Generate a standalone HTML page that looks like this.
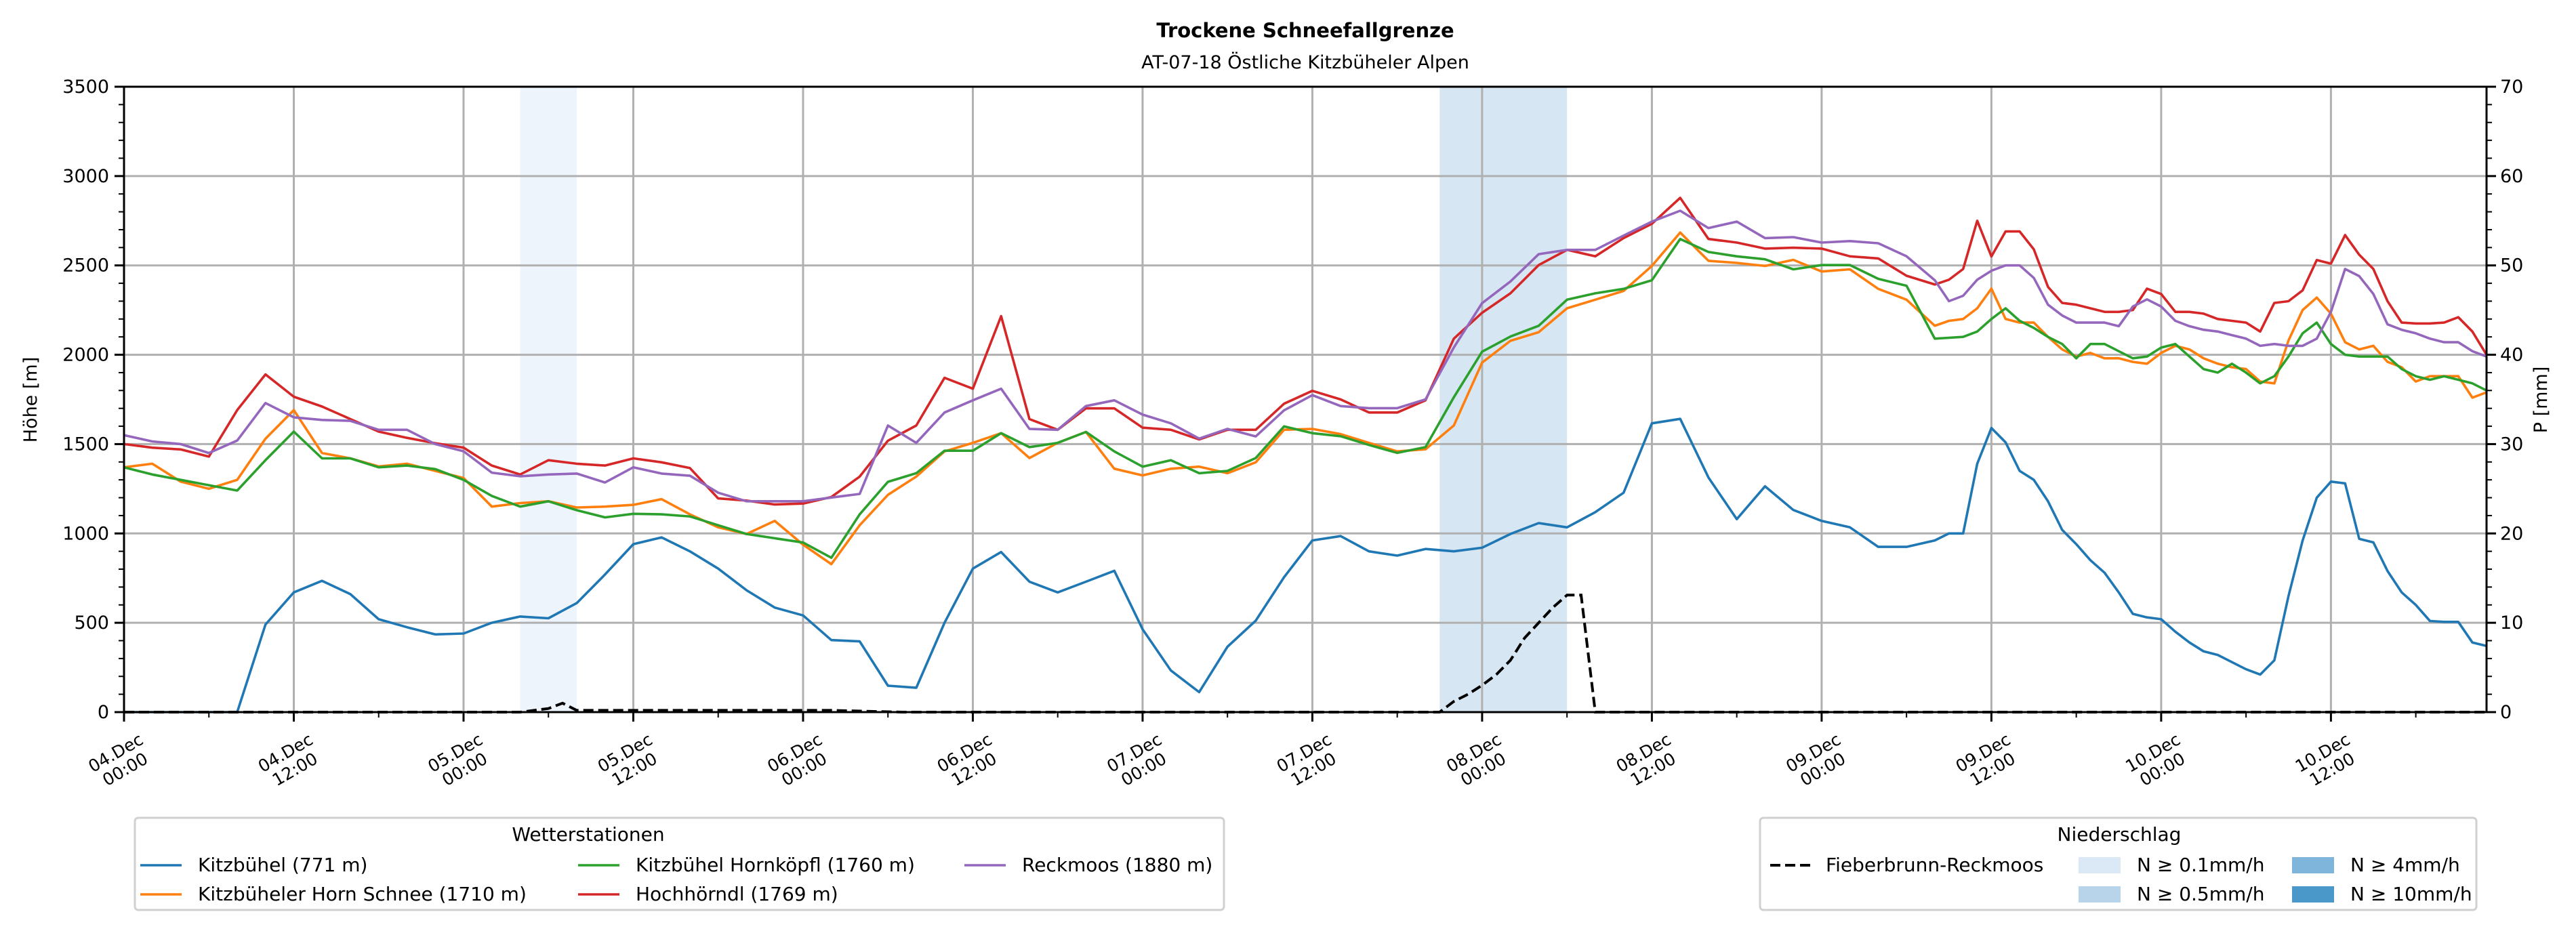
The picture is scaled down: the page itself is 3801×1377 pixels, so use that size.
<!DOCTYPE html>
<html><head><meta charset="utf-8"><title>Trockene Schneefallgrenze</title>
<style>
html,body{margin:0;padding:0;background:#fff;}
svg{display:block;font-family:"DejaVu Sans","Liberation Sans",sans-serif;}
</style></head>
<body>
<svg id="chart" width="3801" height="1377" viewBox="0 0 3801 1377" xmlns="http://www.w3.org/2000/svg">
<rect width="3801" height="1377" fill="#fff"/>
<text x="1926" y="55" text-anchor="middle" font-size="29" font-weight="bold">Trockene Schneefallgrenze</text>
<text x="1926" y="101" text-anchor="middle" font-size="27">AT-07-18 Östliche Kitzbüheler Alpen</text>
<g id="spans"></g><g id="grid"></g><g id="series"></g><g id="axes"></g>
<text transform="translate(54,590) rotate(-90)" text-anchor="middle" font-size="27">Höhe [m]</text>
<text transform="translate(3758,590) rotate(-90)" text-anchor="middle" font-size="27">P [mm]</text>
<g id="legend-left">
<rect x="199" y="1207" width="1607" height="136" fill="#fff" stroke="#d0d0d0" stroke-width="3" rx="5"/>
<text x="868" y="1241" text-anchor="middle" font-size="28">Wetterstationen</text>
</g>
<g id="legend-right">
<rect x="2597" y="1207" width="1057" height="136" fill="#fff" stroke="#d0d0d0" stroke-width="3" rx="5"/>
<text x="3127" y="1241" text-anchor="middle" font-size="28">Niederschlag</text>
</g>
</svg>
<script>
// ---------- data ----------
const hours = [0,2,4,6,8,10,12,14,16,18,20,22,24,26,28,30,32,34,36,38,40,42,44,46,48,50,52,54,56,58,60,62,64,66,68,70,72,74,76,78,80,82,84,86,88,90,92,94,96,98,100,102,104,106,108,110,112,114,116,118,120,122,124,126,128,129,130,131,132,133,134,135,136,137,138,139,140,141,142,143,144,145,146,147,148,149,150,151,152,153,154,155,156,157,158,159,160,161,162,163,164,165,166,167];
const kitzbuehel = [0,0,0,0,0,490,670,735,660,520,475,435,440,500,535,525,610,770,940,
978,900,803,682,585,541,403,396,148,136,500,803,896,730,670,730,791,464,233,112,366,512,755,961,
985,900,876,913,900,920,997,1058,1034,1119,1228,1616,1641,1313,1080,1264,1131,1070,1034,925,925,961,
1000,1000,1390,1590,1510,1350,1300,1180,1020,940,850,780,670,550,530,520,450,390,340,320,280,240,210,290,650,960,1200,1290,1280,970,950,790,670,600,510,505,505,390,370];
const hornSchnee = [1370,1390,1290,1250,1300,1530,1690,1450,1420,1375,1390,1350,1310,1150,1170,1180,1145,1150,1160,
1192,1107,1034,997,1070,937,828,1046,1216,1318,1459,1507,1561,1422,1507,1568,1362,1325,1362,1374,1337,1398,1580,1585,
1556,1507,1459,1471,1604,1956,2078,2126,2260,2308,2357,2497,2684,2526,2514,2497,2531,2466,2478,2369,2308,2162,
2190,2200,2260,2370,2200,2180,2180,2100,2030,1990,2010,1980,1980,1960,1950,2010,2050,2030,1980,1950,1930,1920,1850,1840,2080,2250,2320,2230,2070,2030,2050,1960,1930,1850,1880,1880,1880,1760,1790];
const hornkoepfl = [1370,1330,1300,1270,1240,1410,1570,1420,1420,1370,1380,1360,1300,1210,1150,1180,1130,1090,1110,
1107,1095,1046,997,973,949,864,1107,1289,1337,1463,1463,1561,1483,1507,1568,1459,1374,1410,1337,1350,1422,1599,1561,
1544,1495,1451,1483,1762,2017,2102,2162,2308,2344,2369,2417,2648,2575,2551,2534,2478,2502,2502,2425,2386,2090,
2095,2100,2130,2200,2260,2190,2150,2100,2060,1980,2060,2060,2020,1980,1990,2040,2060,1990,1920,1900,1950,1900,1840,1880,1990,2120,2180,2060,2000,1990,1990,1990,1920,1880,1860,1880,1860,1840,1800];
const hochhoerndl = [1500,1480,1470,1430,1690,1890,1765,1710,1640,1570,1535,1505,1480,1380,1330,1410,1390,1380,1420,
1398,1366,1196,1184,1162,1167,1204,1318,1519,1604,1871,1810,2216,1640,1580,1700,1700,1592,1580,1526,1580,1580,1726,1798,
1750,1677,1677,1745,2090,2235,2344,2502,2587,2551,2653,2733,2878,2648,2628,2594,2599,2594,2551,2539,2442,2393,
2420,2480,2750,2550,2690,2690,2590,2380,2290,2280,2260,2240,2240,2250,2370,2340,2240,2240,2230,2200,2190,2180,2130,2290,2300,2360,2530,2510,2670,2560,2480,2300,2180,2175,2175,2180,2210,2130,2000];
const reckmoos = [1550,1515,1500,1450,1520,1730,1650,1635,1630,1580,1580,1500,1460,1340,1320,1330,1335,1285,1370,
1335,1323,1228,1180,1180,1180,1201,1221,1604,1507,1677,1745,1810,1585,1580,1713,1745,1665,1616,1531,1585,1543,1689,1774,
1713,1701,1701,1750,2041,2289,2410,2563,2587,2587,2667,2745,2806,2709,2745,2653,2658,2628,2636,2624,2551,2417,
2300,2330,2420,2470,2500,2500,2430,2280,2220,2180,2180,2180,2160,2270,2310,2270,2190,2160,2140,2130,2110,2090,2050,2060,2050,2050,2090,2240,2480,2440,2340,2170,2140,2120,2090,2070,2070,2020,1990];
const precipHours = [0,28,30,31,32,40,50,55,93,94,95,96,97,98,99,100,101,102,103,104,167];
const precipVals  = [0,0,0.4,1.0,0.2,0.2,0.2,0,0,1.2,2.0,3.0,4.2,5.8,8.3,10.0,11.7,13.1,13.1,0,0];
const spanStarts = [28,93];
const spanEnds   = [32,102];
const spanColors = ["#eef4fb","#d6e6f3"];
const xTickHours = [0,12,24,36,48,60,72,84,96,108,120,132,144,156];
const xTickLabels = ["04.Dec|00:00","04.Dec|12:00","05.Dec|00:00","05.Dec|12:00","06.Dec|00:00","06.Dec|12:00","07.Dec|00:00","07.Dec|12:00","08.Dec|00:00","08.Dec|12:00","09.Dec|00:00","09.Dec|12:00","10.Dec|00:00","10.Dec|12:00"];
const yTicks = [0,500,1000,1500,2000,2500,3000,3500];
const y2Ticks = [0,10,20,30,40,50,60,70];
const seriesNames = ["Kitzbühel (771 m)","Kitzbüheler Horn Schnee (1710 m)","Kitzbühel Hornköpfl (1760 m)","Hochhörndl (1769 m)","Reckmoos (1880 m)"];

// ---------- scales ----------
const L=183,R=3669,T=128,B=1051,HMAX=167;
const xS=h=>L+h*(R-L)/HMAX;
const yS=v=>B-v*(B-T)/3500;
const yP=p=>B-p*(B-T)/70;
const NS="http://www.w3.org/2000/svg";
function mk(tag,attrs,parent){const e=document.createElementNS(NS,tag);for(const k in attrs)e.setAttribute(k,attrs[k]);parent.appendChild(e);return e;}
const gSp=document.getElementById('spans'),gG=document.getElementById('grid'),gS=document.getElementById('series'),gA=document.getElementById('axes');

spanStarts.forEach((s,i)=>{
  const r=mk('rect',{x:xS(s),y:T,width:xS(spanEnds[i])-xS(s),height:B-T,fill:spanColors[i]},gSp);
  
  
});
xTickHours.forEach(h=>{mk('line',{x1:xS(h),x2:xS(h),y1:T,y2:B,stroke:"#b0b0b0","stroke-width":3},gG);});
yTicks.forEach(v=>{mk('line',{x1:L,x2:R,y1:yS(v),y2:yS(v),stroke:"#b0b0b0","stroke-width":3},gG);});

const colors=["#1f77b4","#ff7f0e","#2ca02c","#d62728","#9467bd"];
const data=[kitzbuehel,hornSchnee,hornkoepfl,hochhoerndl,reckmoos];
const keys=["kitzbuehel","horn-schnee","hornkoepfl","hochhoerndl","reckmoos"];
data.forEach((arr,i)=>{
  const d=arr.map((v,j)=>(j?'L':'M')+xS(hours[j]).toFixed(1)+','+yS(v).toFixed(1)).join('');
  const p=mk('path',{d:d,fill:"none",stroke:colors[i],"stroke-width":3.6,"stroke-linejoin":"round"},gS);
  
  
});
const pd=precipVals.map((v,j)=>(j?'L':'M')+xS(precipHours[j]).toFixed(1)+','+yP(v).toFixed(1)).join('');
const pp=mk('path',{d:pd,fill:"none",stroke:"#000","stroke-width":4,"stroke-dasharray":"15,7"},gS);



mk('rect',{x:L,y:T,width:R-L,height:B-T,fill:"none",stroke:"#000","stroke-width":3},gA);
for(let v=0;v<=3500;v+=100){const maj=v%500===0;mk('line',{x1:L,x2:L-(maj?14:8),y1:yS(v),y2:yS(v),stroke:"#000","stroke-width":maj?3:2},gA);}
yTicks.forEach(v=>{const t=mk('text',{x:L-22,y:yS(v)+9,"text-anchor":"end","font-size":27},gA);t.textContent=v;
  
  });
for(let p=0;p<=70;p+=2){const maj=p%10===0;mk('line',{x1:R,x2:R+(maj?14:8),y1:yP(p),y2:yP(p),stroke:"#000","stroke-width":maj?3:2},gA);}
y2Ticks.forEach(p=>{const t=mk('text',{x:R+20,y:yP(p)+9,"text-anchor":"start","font-size":27},gA);t.textContent=p;
  
  });
for(let h=0;h<=HMAX;h+=6){const maj=h%12===0;mk('line',{x1:xS(h),x2:xS(h),y1:B,y2:B+(maj?14:8),stroke:"#000","stroke-width":maj?3:2},gA);}
xTickHours.forEach((h,i)=>{
  const parts=xTickLabels[i].split('|');
  const cx=xS(h)-6,cy=1122;
  const t=mk('text',{transform:`translate(${cx},${cy}) rotate(-30)`,"text-anchor":"middle","font-size":25},gA);
  
  
  const a=mk('tspan',{x:0,y:-4},t);a.textContent=parts[0];
  const b=mk('tspan',{x:0,y:24},t);b.textContent=parts[1];
});

const gl=document.getElementById('legend-left');
const lx=[207,853,1423], ly=[1277,1320];
const order=[[0,0,0],[1,0,1],[2,1,0],[3,1,1],[4,2,0]];
order.forEach(o=>{
  const i=o[0],x=lx[o[1]],y=ly[o[2]];
  const g=mk('g',{},gl);
  
  
  mk('line',{x1:x,x2:x+61,y1:y,y2:y,stroke:colors[i],"stroke-width":3.6},g);
  const t=mk('text',{x:x+85,y:y+9,"font-size":28},g);t.textContent=seriesNames[i];
});
const gr=document.getElementById('legend-right');
const ge=mk('g',{},gr);


mk('line',{x1:2612,x2:2672,y1:1277,y2:1277,stroke:"#000","stroke-width":4,"stroke-dasharray":"15,7"},ge);
mk('text',{x:2694,y:1286,"font-size":28},ge).textContent="Fieberbrunn-Reckmoos";
const patches=[["#dbe9f6","N ≥ 0.1mm/h",3067,1277],["#b8d4ea","N ≥ 0.5mm/h",3067,1320],["#7fb5da","N ≥ 4mm/h",3382,1277],["#4a98c9","N ≥ 10mm/h",3382,1320]];
patches.forEach(p=>{
  const g=mk('g',{},gr);
  
  
  mk('rect',{x:p[2],y:p[3]-12,width:62,height:24,fill:p[0]},g);
  mk('text',{x:p[2]+86,y:p[3]+9,"font-size":28},g).textContent=p[1];
});
</script>
</body></html>
